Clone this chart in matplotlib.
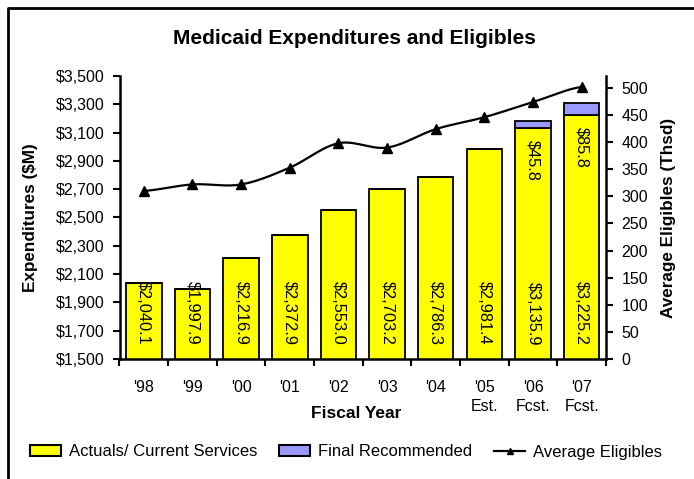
import numpy as np
import matplotlib
matplotlib.use("Agg")
import matplotlib.pyplot as plt
from matplotlib.patches import Patch
from matplotlib.lines import Line2D
from matplotlib.ticker import FuncFormatter, FixedLocator

plt.rcParams['font.family'] = ['Liberation Sans', 'DejaVu Sans']

# ---- data ----
years = ["'98", "'99", "'00", "'01", "'02", "'03", "'04", "'05\nEst.", "'06\nFcst.", "'07\nFcst."]
actuals = [2040.1, 1997.9, 2216.9, 2372.9, 2553.0, 2703.2, 2786.3, 2981.4, 3135.9, 3225.2]
recommended = [0, 0, 0, 0, 0, 0, 0, 0, 45.8, 85.8]
eligibles = [310, 322, 322, 353, 398, 390, 424, 446, 474, 502]
expense_ticks = list(range(1500, 3501, 200))
eligible_ticks = list(range(0, 501, 50))

YELLOW = "#FFFF00"
PURPLE = "#9999FF"

W, H = 694, 479
fig = plt.figure(figsize=(W / 100, H / 100), dpi=100)

def fx(px):
    return px / W

def fy(py):
    return 1 - py / H

ax_l, ax_r, ax_t, ax_b = 119.5, 606, 76, 359
ax = fig.add_axes([fx(ax_l), fy(ax_b), fx(ax_r - ax_l), (ax_b - ax_t) / H])
ax2 = ax.twinx()

x = np.arange(len(years))
bw = 0.73
ax.bar(x, actuals, width=bw, color=YELLOW, edgecolor="black", linewidth=1.3, zorder=2)
ax.bar(x, recommended, width=bw, bottom=actuals, color=PURPLE, edgecolor="black",
       linewidth=1.3, zorder=2)

ax.set_xlim(-0.5, len(years) - 0.5)
ax.set_ylim(1500, 3500)
ax.yaxis.set_major_locator(FixedLocator(expense_ticks))
ax.yaxis.set_major_formatter(FuncFormatter(lambda v, p: f"${v:,.0f}"))

# category boundaries carry the tick marks, centres carry the labels
ax.xaxis.set_major_locator(FixedLocator(np.arange(-0.5, len(years), 1.0)))
ax.xaxis.set_major_formatter(FuncFormatter(lambda v, p: ""))
ax.xaxis.set_minor_locator(FixedLocator(x))
ax.set_xticklabels(years, minor=True, fontsize=11.5, linespacing=1.35)
ax.tick_params(axis="x", which="major", direction="out", length=5, width=1.5)
ax.tick_params(axis="x", which="minor", length=0, pad=15)
ax.tick_params(axis="y", direction="out", length=5, width=1.5, labelsize=11.5, pad=6)

ax2.set_ylim(0, 522)
ax2.yaxis.set_major_locator(FixedLocator(eligible_ticks))
ax2.tick_params(axis="y", direction="out", length=5, width=1.5, labelsize=11.5, pad=6)

for a in (ax, ax2):
    a.spines["top"].set_visible(False)
    for s in ("left", "right", "bottom"):
        a.spines[s].set_linewidth(1.8)
ax.spines["right"].set_visible(False)
ax2.spines["left"].set_visible(False)
ax2.spines["bottom"].set_visible(False)

# smoothed eligibles line (Catmull-Rom style Bezier segments)
def smooth(xs, ys, n=30):
    xs = np.asarray(xs, float)
    ys = np.asarray(ys, float)
    px = np.concatenate([[2 * xs[0] - xs[1]], xs, [2 * xs[-1] - xs[-2]]])
    py = np.concatenate([[ys[0]], ys, [ys[-1]]])
    outx, outy = [], []
    for i in range(1, len(px) - 2):
        p0 = np.array([px[i], py[i]])
        p3 = np.array([px[i + 1], py[i + 1]])
        t0 = (np.array([px[i + 1], py[i + 1]]) - np.array([px[i - 1], py[i - 1]])) / 6
        t1 = (np.array([px[i + 2], py[i + 2]]) - np.array([px[i], py[i]])) / 6
        p1 = p0 + t0
        p2 = p3 - t1
        t = np.linspace(0, 1, n)[:, None]
        pts = ((1 - t) ** 3) * p0 + 3 * ((1 - t) ** 2) * t * p1 + 3 * (1 - t) * t ** 2 * p2 + t ** 3 * p3
        outx.extend(pts[:, 0])
        outy.extend(pts[:, 1])
    return outx, outy

sx, sy = smooth(x, eligibles)
ax2.plot(sx, sy, color="black", linewidth=1.6, zorder=3)
ax2.plot(x, eligibles, linestyle="none", marker="^", markersize=6.5, color="black", zorder=4)

# value labels
lab_font = dict(family=["Liberation Sans Narrow", "Liberation Sans"], fontsize=11.8)
for i, v in enumerate(actuals):
    ax.annotate(f"${v:,.1f}", xy=(i, 1500), xytext=(0, 10), textcoords="offset points",
                rotation=270, ha="center", va="bottom", zorder=5, **lab_font)
for i, (v, r) in enumerate(zip(actuals, recommended)):
    if r > 0:
        ax.annotate(f"${r:,.1f}", xy=(i, v), xytext=(0, -9), textcoords="offset points",
                    rotation=270, ha="center", va="top", zorder=5, **lab_font)

# titles
fig.text(fx(354), fy(38), "Medicaid Expenditures and Eligibles", ha="center", va="center",
         fontsize=15, fontweight="bold")
fig.text(fx(31), fy(217.5), "Expenditures ($M)", rotation=90, ha="center", va="center",
         fontsize=12.3, fontweight="bold")
fig.text(fx(668), fy(217.5), "Average Eligibles (Thsd)", rotation=90, ha="center", va="center",
         fontsize=12.3, fontweight="bold")
fig.text(fx(356), fy(414), "Fiscal Year", ha="center", va="center",
         fontsize=12.5, fontweight="bold")

handles = [
    Patch(facecolor=YELLOW, edgecolor="black", linewidth=1.5, label="Actuals/ Current Services"),
    Patch(facecolor=PURPLE, edgecolor="black", linewidth=1.5, label="Final Recommended"),
    Line2D([0], [0], color="black", linewidth=1.6, marker="^", markersize=4,
           label="Average Eligibles"),
]
fig.legend(handles=handles, loc="center", bbox_to_anchor=(fx(346), fy(452)), ncol=3,
           frameon=False, fontsize=12, handlelength=1.85, handleheight=0.6,
           handletextpad=0.45, columnspacing=1.35, borderaxespad=0)

# outer frame (left and top edges)
fig.add_artist(Line2D([fx(8), fx(8), 1], [0, fy(7.5), fy(7.5)], transform=fig.transFigure,
                      color="black", linewidth=2))

fig.savefig("out.png", dpi=100)
